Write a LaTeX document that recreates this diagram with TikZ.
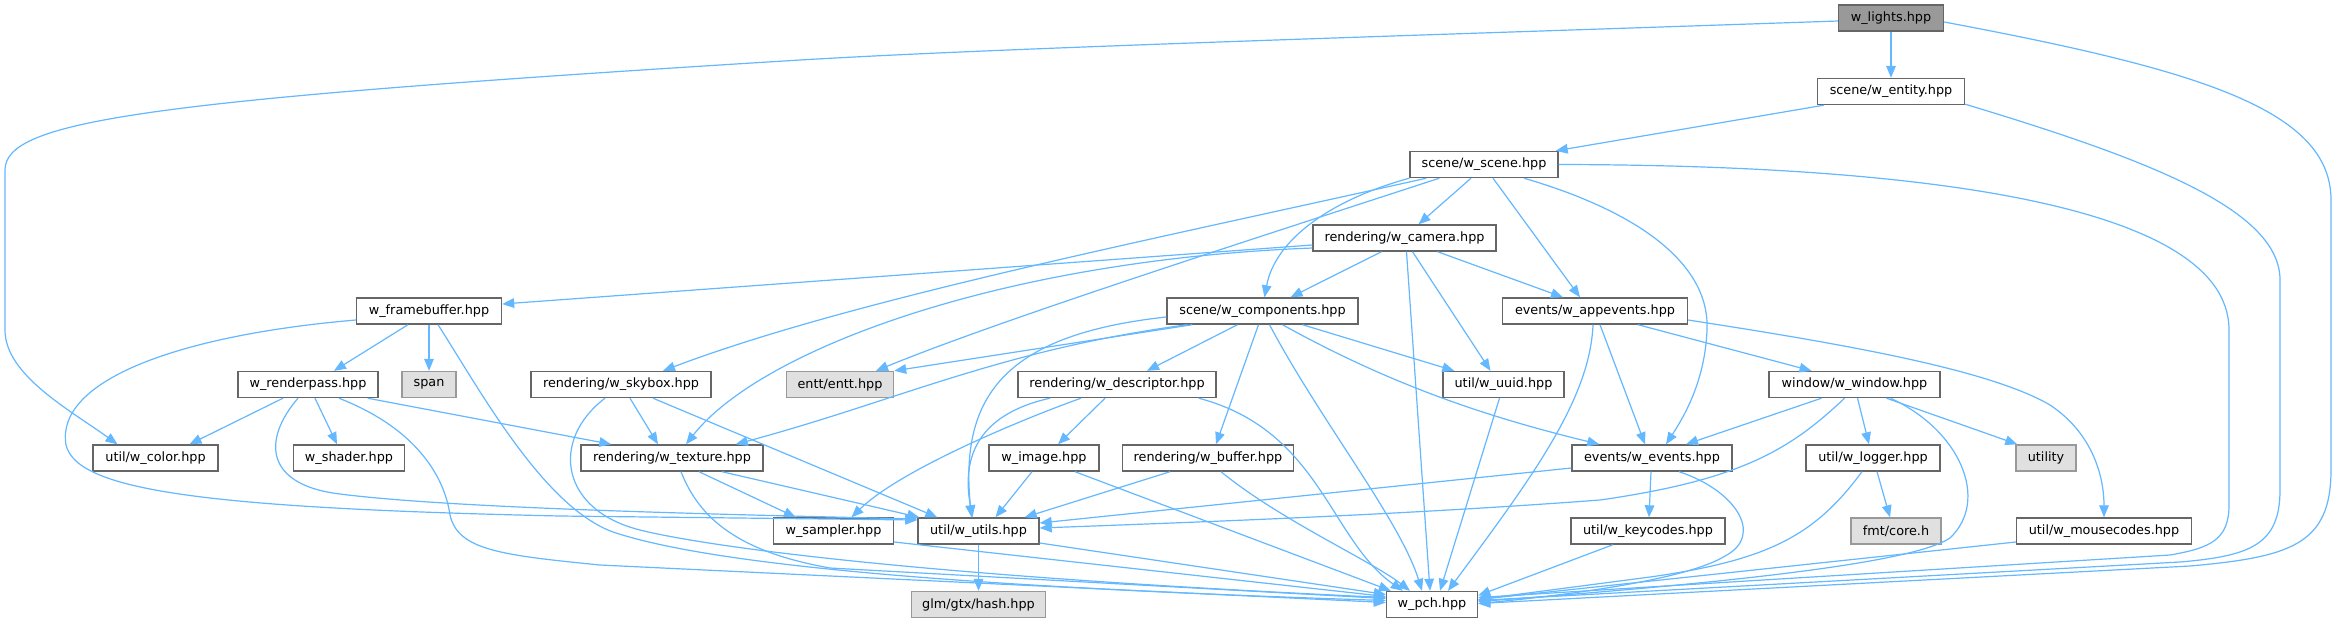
\documentclass[tikz,border=0pt]{standalone}
\usepackage{fontspec}
\setmainfont{DejaVu Sans}
\usetikzlibrary{arrows.meta,calc}
\definecolor{edgecol}{HTML}{63B8FF}
\definecolor{nodeborder}{HTML}{666666}
\definecolor{extborder}{HTML}{999999}
\definecolor{extfill}{HTML}{E0E0E0}
\definecolor{rootfill}{HTML}{999999}
\begin{document}
\begin{tikzpicture}[x=0.5pt,y=-0.5pt,
  box/.style={draw=nodeborder, fill=white, line width=0.7pt, minimum height=13pt, inner sep=0pt,
    font=\fontsize{6.4pt}{7.7pt}\selectfont, anchor=center},
  ext/.style={box, draw=extborder, fill=extfill},
  root/.style={box, fill=rootfill},
  edge/.style={draw=edgecol, line width=0.6pt, -{Triangle[length=6pt,width=4.8pt]}}]
\useasboundingbox (0,0) rectangle (2336,623);
\fill[white] (0,0) rectangle (2336,623);
% nodes
\node[root, minimum width=52.5pt] (lights) at (1891,18) {w\_lights.hpp};
\node[box, minimum width=73.5pt] (entity) at (1891,91.5) {scene/w\_entity.hpp};
\node[box, minimum width=74pt] (scene) at (1484,164.5) {scene/w\_scene.hpp};
\node[box, minimum width=91.5pt] (camera) at (1404.5,238) {rendering/w\_camera.hpp};
\node[box, minimum width=72.5pt] (fb) at (429,311) {w\_framebuffer.hpp};
\node[box, minimum width=95.5pt] (comp) at (1262.5,311) {scene/w\_components.hpp};
\node[box, minimum width=92.5pt] (appev) at (1595,311) {events/w\_appevents.hpp};
\node[box, minimum width=70pt] (rp) at (308,384.5) {w\_renderpass.hpp};
\node[ext, minimum width=27pt] (span) at (429,384.5) {span};
\node[box, minimum width=90pt] (sky) at (621,384.5) {rendering/w\_skybox.hpp};
\node[ext, minimum width=53.5pt] (entt) at (840,384.5) {entt/entt.hpp};
\node[box, minimum width=99pt] (desc) at (1117,384.5) {rendering/w\_descriptor.hpp};
\node[box, minimum width=60.5pt] (uuid) at (1503.5,384.5) {util/w\_uuid.hpp};
\node[box, minimum width=85.5pt] (win) at (1854.5,384.5) {window/w\_window.hpp};
\node[box, minimum width=62.5pt] (color) at (155.5,458) {util/w\_color.hpp};
\node[box, minimum width=55.5pt] (shader) at (349,458) {w\_shader.hpp};
\node[box, minimum width=91pt] (tex) at (672,458) {rendering/w\_texture.hpp};
\node[box, minimum width=55pt] (image) at (1044,458) {w\_image.hpp};
\node[box, minimum width=85.5pt] (buf) at (1208,458) {rendering/w\_buffer.hpp};
\node[box, minimum width=80pt] (events) at (1652,458) {events/w\_events.hpp};
\node[box, minimum width=67pt] (logger) at (1873,458) {util/w\_logger.hpp};
\node[ext, minimum width=30pt] (utility) at (2046,458) {utility};
\node[box, minimum width=60pt] (sampler) at (833.5,531) {w\_sampler.hpp};
\node[box, minimum width=60.5pt] (utils) at (978.5,531) {util/w\_utils.hpp};
\node[box, minimum width=77pt] (keys) at (1648,531) {util/w\_keycodes.hpp};
\node[ext, minimum width=45pt] (fmt) at (1896,531) {fmt/core.h};
\node[box, minimum width=87.5pt] (mouse) at (2104,531) {util/w\_mousecodes.hpp};
\node[ext, minimum width=67pt] (glm) at (978.5,604.5) {glm/gtx/hash.hpp};
\node[box, minimum width=45.5pt] (pch) at (1432,604.5) {w\_pch.hpp};
% lights
\draw[edge] ($(lights.west)+(0,3)$) .. controls (1400,36) and (1000,48) .. (800,60) .. controls (150,100) and (5,120) .. (5,170) -- (5,330) .. controls (5,375) and (70,410) .. ($(color.north)+(-38,0)$);
\draw[edge] (lights.south) -- (entity.north);
\draw[edge] ($(lights.east)+(0,4)$) .. controls (2200,70) and (2331,110) .. (2331,200) -- (2331,470) .. controls (2331,545) and (2290,557) .. (2190,566) -- ($(pch.east)+(0,-1)$);
% entity
\draw[edge] ($(entity.south west)+(7,0)$) -- ($(scene.north east)+(-3,0)$);
\draw[edge] ($(entity.south east)+(0,-1)$) .. controls (2150,160) and (2280,210) .. (2280,280) -- (2280,490) .. controls (2280,545) and (2250,556) .. (2180,562) -- ($(pch.east)+(0,-4)$);
% scene
\draw[edge] (scene.east) .. controls (1900,165) and (2229,200) .. (2229,330) -- (2229,505) .. controls (2229,540) and (2210,548) .. (2170,555) -- ($(pch.east)+(0,-7)$);
\draw[edge] ($(scene.south)+(-13,0)$) -- ($(camera.north)+(14,0)$);
\draw[edge] ($(scene.south)+(9,0)$) -- ($(appev.north)+(-15,0)$);
\draw[edge] ($(scene.south)+(40,0)$) .. controls (1650,215) and (1710,270) .. (1707,330) .. controls (1705,380) and (1685,415) .. ($(events.north)+(14,0)$);
\draw[edge] (scene.south west) .. controls (1330,200) and (1275,240) .. ($(comp.north)+(2,0)$);
\draw[edge] ($(scene.south west)+(17,0)$) .. controls (1150,240) and (850,300) .. ($(sky.north)+(42,0)$);
\draw[edge] ($(scene.south west)+(30,0)$) .. controls (1250,240) and (1000,320) .. ($(entt.north)+(36,0)$);
% camera
\draw[edge] ($(camera.west)+(0,7)$) -- ($(fb.east)+(0,-7)$);
\draw[edge] ($(camera.west)+(0,10)$) .. controls (1000,260) and (760,350) .. ($(tex.north)+(14,0)$);
\draw[edge] ($(camera.south)+(-23,0)$) -- ($(comp.north)+(28,0)$);
\draw[edge] ($(camera.south)+(2,0)$) -- ($(pch.north)+(-2,0)$);
\draw[edge] ($(camera.south)+(8,0)$) -- ($(uuid.north)+(-13,0)$);
\draw[edge] ($(camera.south)+(33,0)$) -- ($(appev.north)+(-32,0)$);
% framebuffer
\draw[edge] ($(fb.south)+(-21,0)$) -- ($(rp.north)+(26,0)$);
\draw[edge] (fb.south) -- (span.north);
\draw[edge] ($(fb.south)+(9,0)$) .. controls (480,390) and (545,510) .. (616,533) .. controls (700,560) and (900,585) .. ($(pch.west)+(0,-4)$);
\draw[edge] ($(fb.west)+(0,9)$) .. controls (180,335) and (55,380) .. (66,445) .. controls (77,490) and (200,508) .. (560,516) -- ($(utils.west)+(0,-11)$);
% renderpass
\draw[edge] ($(rp.south)+(-25,0)$) -- ($(color.north)+(34,0)$);
\draw[edge] ($(rp.south)+(7,0)$) -- ($(shader.north)+(-12,0)$);
\draw[edge] ($(rp.south east)+(-11,0)$) -- ($(tex.north west)+(31,0)$);
\draw[edge] ($(rp.south)+(-10,0)$) .. controls (262,440) and (265,485) .. (340,494) .. controls (450,508) and (700,514) .. ($(utils.west)+(0,-12)$);
\draw[edge] ($(rp.south)+(31,0)$) .. controls (420,430) and (445,480) .. (450,515) .. controls (458,550) and (500,555) .. (600,565) -- ($(pch.west)+(0,-2)$);
% skybox
\draw[edge] ($(sky.south)+(9,0)$) -- ($(tex.north)+(-14,0)$);
\draw[edge] ($(sky.south)+(32,0)$) -- ($(utils.north west)+(20,0)$);
\draw[edge] ($(sky.south)+(-16,0)$) .. controls (550,440) and (560,510) .. (640,530) .. controls (700,545) and (900,575) .. ($(pch.west)+(0,-7)$);
% components
\draw[edge] ($(comp.south west)+(26,0)$) -- (entt.north east);
\draw[edge] ($(comp.south west)+(21,0)$) .. controls (1000,350) and (900,400) .. ($(tex.north east)+(-28,0)$);
\draw[edge] ($(comp.west)+(0,6)$) .. controls (1000,335) and (960,400) .. ($(utils.north)+(-7,0)$);
\draw[edge] ($(comp.south)+(-25,0)$) -- ($(desc.north)+(30,0)$);
\draw[edge] ($(comp.south)+(-4,0)$) -- ($(buf.north)+(8,0)$);
\draw[edge] ($(comp.south)+(7,0)$) .. controls (1320,420) and (1400,520) .. ($(pch.north)+(-10,0)$);
\draw[edge] ($(comp.south)+(40,0)$) -- ($(uuid.north west)+(12,0)$);
\draw[edge] ($(comp.south)+(20,0)$) .. controls (1400,390) and (1500,420) .. ($(events.north west)+(28,0)$);
% appevents
\draw[edge] ($(appev.south)+(5,0)$) -- ($(events.north)+(-7,0)$);
\draw[edge] ($(appev.south)+(-2,0)$) .. controls (1590,400) and (1530,480) .. ($(pch.north)+(16,0)$);
\draw[edge] ($(appev.south)+(43,0)$) -- ($(win.north)+(-43,0)$);
\draw[edge] ($(appev.east)+(0,9)$) .. controls (1850,345) and (1990,370) .. (2050,405) .. controls (2095,435) and (2104,480) .. (mouse.north);
% descriptor
\draw[edge] ($(desc.south)+(-12,0)$) -- ($(image.north)+(14,0)$);
\draw[edge] ($(desc.south)+(-36,0)$) .. controls (1020,420) and (900,470) .. ($(sampler.north)+(18,0)$);
\draw[edge] ($(desc.south)+(-67,0)$) .. controls (975,415) and (962,460) .. ($(utils.north)+(-6,0)$);
\draw[edge] ($(desc.south east)+(-18,0)$) .. controls (1320,430) and (1330,540) .. ($(pch.north west)+(17,0)$);
% uuid
\draw[edge] ($(uuid.south)+(-4,0)$) -- ($(pch.north)+(8,0)$);
% window
\draw[edge] ($(win.south)+(-33,0)$) -- ($(events.north)+(34,0)$);
\draw[edge] ($(win.south)+(-10,0)$) .. controls (1790,450) and (1740,480) .. (1600,500) .. controls (1400,515) and (1200,522) .. ($(utils.east)+(0,-3)$);
\draw[edge] ($(win.south)+(3,0)$) -- ($(logger.north)+(-4,0)$);
\draw[edge] ($(win.south)+(32,0)$) -- ($(utility.north west)+(2,0)$);
\draw[edge] ($(win.south)+(36,0)$) .. controls (1960,430) and (1990,500) .. (1950,538) .. controls (1910,565) and (1700,585) .. ($(pch.east)+(0,-3)$);
% events
\draw[edge] ($(events.south)+(-1,0)$) -- ($(keys.north)+(1,0)$);
\draw[edge] ($(events.west)+(0,10)$) -- ($(utils.east)+(0,-8)$);
\draw[edge] ($(events.south)+(27,0)$) .. controls (1735,490) and (1765,535) .. (1725,556) .. controls (1690,578) and (1580,594) .. ($(pch.east)+(0,-1)$);
% image
\draw[edge] ($(image.south)+(-12,0)$) -- ($(utils.north)+(17,0)$);
\draw[edge] ($(image.south)+(31,0)$) -- ($(pch.north west)+(5,0)$);
% buffer
\draw[edge] ($(buf.south)+(-38,0)$) -- ($(utils.north east)+(-15,0)$);
\draw[edge] ($(buf.south)+(13,0)$) .. controls (1280,520) and (1370,560) .. ($(pch.north)+(-22,0)$);
% texture
\draw[edge] ($(tex.south)+(27,0)$) -- ($(sampler.north west)+(23,0)$);
\draw[edge] ($(tex.south)+(50,0)$) -- ($(utils.north west)+(2,0)$);
\draw[edge] ($(tex.south)+(9,0)$) .. controls (700,520) and (740,552) .. (830,568) -- ($(pch.west)+(0,-6)$);
% logger
\draw[edge] ($(logger.south)+(4,0)$) -- ($(fmt.north)+(-6,0)$);
\draw[edge] ($(logger.south)+(-11,0)$) .. controls (1815,535) and (1770,560) .. (1650,577) -- ($(pch.east)+(0,-5)$);
% bottom rows
\draw[edge] ($(sampler.east)+(0,11)$) -- ($(pch.west)+(0,-8)$);
\draw[edge] ($(utils.east)+(0,12)$) -- ($(pch.west)+(0,-10)$);
\draw[edge] (utils.south) -- (glm.north);
\draw[edge] ($(keys.south)+(-35,0)$) -- ($(pch.east)+(0,-9)$);
\draw[edge] ($(mouse.west)+(0,11)$) -- ($(pch.east)+(0,-5)$);
\end{tikzpicture}
\end{document}
